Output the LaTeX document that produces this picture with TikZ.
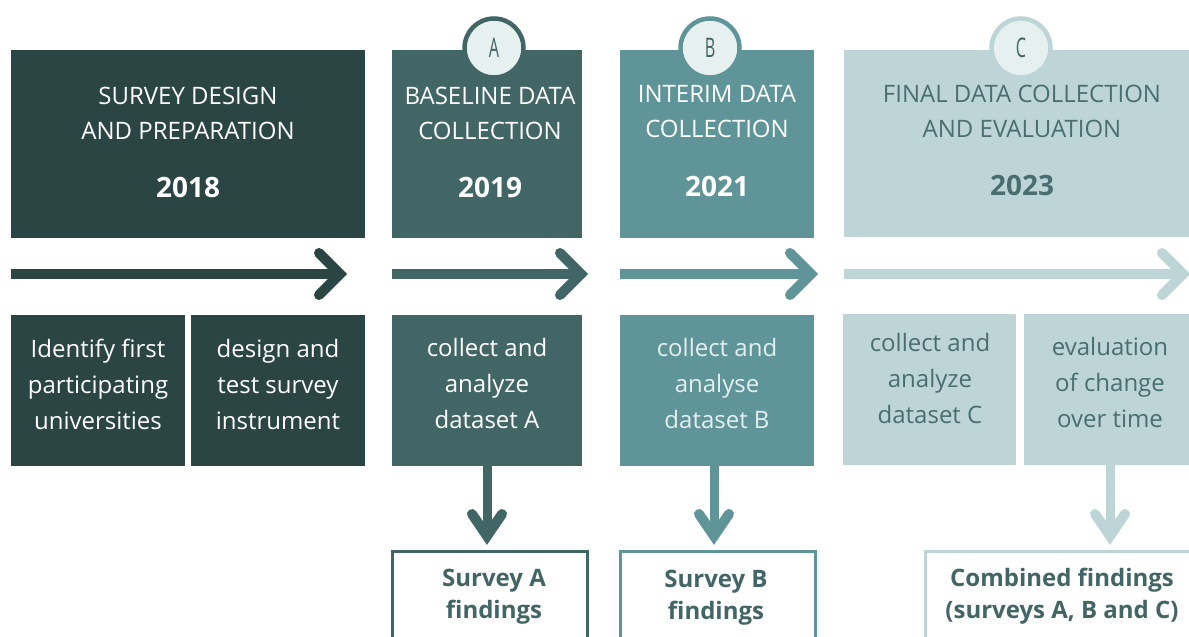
\documentclass[tikz,border=0pt]{standalone}
\usepackage{fontspec}
\setmainfont{Open Sans}
\usetikzlibrary{calc}
\definecolor{cA}{HTML}{2B4545}
\definecolor{cB}{HTML}{426566}
\definecolor{cC}{HTML}{5F9598}
\definecolor{cD}{HTML}{BDD5D7}
\definecolor{cL}{HTML}{E6F0EF}
\definecolor{cT}{HTML}{4A6E70}
\definecolor{cW}{HTML}{E4EFEF}
\tikzset{
  box/.style={draw=none, inner sep=0, outer sep=0, anchor=north west},
  head/.style={align=center, font=\fontsize{24}{35}\selectfont, inner sep=0},
  year/.style={font=\fontsize{28}{30}\selectfont\bfseries, inner sep=0},
  body/.style={align=center, font=\fontsize{24}{36}\selectfont, inner sep=0},
  find/.style={align=center, font=\fontsize{24}{32}\selectfont\bfseries, inner sep=0, text=cB},
  fbox/.style={draw, line width=3, fill=white, inner sep=0, outer sep=0, anchor=north west},
  shaft/.style={line width=10},
  vshaft/.style={line width=9},
  chev/.style={line width=10, line cap=round, line join=miter},
  badge/.style={circle, fill=cL, line width=4.5, minimum size=59, inner sep=0, text=cB, font=\fontsize{27}{27}\selectfont},
}
\begin{document}
\begin{tikzpicture}[x=1pt,y=-1pt]
\useasboundingbox (0,0) rectangle (1189,637);
% top boxes
\node[box, fill=cA, minimum width=354, minimum height=188] (t1) at (11,50) {};
\node[box, fill=cB, minimum width=190, minimum height=188] (t2) at (392,50) {};
\node[box, fill=cC, minimum width=194, minimum height=188] (t3) at (620,50) {};
\node[box, fill=cD, minimum width=346, minimum height=187] (t4) at (844,50) {};
% badges
\node[badge, draw=cB] (bA) at (494,48) {\scalebox{0.6}[1]{A}};
\node[badge, draw=cC] (bB) at (710,48) {\scalebox{0.6}[1]{B}};
\node[badge, draw=cD] (bC) at (1021,48) {\scalebox{0.6}[1]{C}};
% heading texts
\node[head, text=white] (h1) at (188,113) {SURVEY DESIGN\\AND PREPARATION};
\node[year, text=white] (y1) at (188,187) {2018};
\node[head, text=white] (h2) at (490,113) {BASELINE DATA\\COLLECTION};
\node[year, text=white] (y2) at (490,187) {2019};
\node[head, text=white] (h3) at (717,112) {INTERIM DATA\\COLLECTION};
\node[year, text=white] (y3) at (717,186) {2021};
\node[head, text=cT] (h4) at (1022,111) {FINAL DATA COLLECTION\\AND EVALUATION};
\node[year, text=cT] (y4) at (1022,185) {2023};
% horizontal arrows
\coordinate (a1s) at (11,274); \coordinate (a1e) at (340,274);
\coordinate (a2s) at (392,274); \coordinate (a2e) at (581,274);
\coordinate (a3s) at (620,274); \coordinate (a3e) at (811,274);
\coordinate (a4s) at (844,274); \coordinate (a4e) at (1183,274);
\foreach \s/\e/\c in {a1s/a1e/cA, a2s/a2e/cB, a3s/a3e/cC, a4s/a4e/cD}{
  \draw[shaft, draw=\c] (\s) -- ($(\e)+(-4,0)$);
  \draw[chev, draw=\c] ($(\e)+(-21,-21)$) -- (\e) -- ($(\e)+(-21,21)$);
}
% lower boxes
\node[box, fill=cA, minimum width=174, minimum height=151] (l1) at (11,315) {};
\node[box, fill=cA, minimum width=174, minimum height=151] (l2) at (191,315) {};
\node[box, fill=cB, minimum width=190, minimum height=151] (l3) at (392,315) {};
\node[box, fill=cC, minimum width=194, minimum height=151] (l4) at (620,315) {};
\node[box, fill=cD, minimum width=173, minimum height=151] (l5) at (843,314) {};
\node[box, fill=cD, minimum width=166, minimum height=151] (l6) at (1024,314) {};
\node[body, text=white] at (98,384) {Identify first\\participating\\universities};
\node[body, text=white] at (278,384) {design and\\test survey\\instrument};
\node[body, text=white] at (487,383) {collect and\\analyze\\dataset A};
\node[body, text=cW] at (717,383) {collect and\\analyse\\dataset B};
\node[body, text=cT] at (930,378) {collect and\\analyze\\dataset C};
\node[body, text=cT] at (1110,382) {evaluation\\of change\\over time};
% findings boxes
\node[fbox, draw=cB, minimum width=195, minimum height=100] (fA) at (392,551) {};
\node[fbox, draw=cC, minimum width=195, minimum height=100] (fB) at (620,551) {};
\node[fbox, draw=cD, minimum width=270, minimum height=100] (fC) at (925,551) {};
\node[find] at (494,597) {Survey A\\findings};
\node[find] at (716,598) {Survey B\\findings};
\node[find] at (1062,596) {Combined findings\\(surveys A, B and C)};
% vertical arrows
\coordinate (vA) at (487,536); \coordinate (vB) at (714,536); \coordinate (vC) at (1110,536);
\foreach \x/\t/\c in {l3/vA/cB, l4/vB/cC, l6/vC/cD}{
  \draw[vshaft, draw=\c] (\x.south -| \t) -- ($(\t)+(0,-4)$);
  \draw[chev, draw=\c] ($(\t)+(-15,-22)$) -- (\t) -- ($(\t)+(15,-22)$);
}
\end{tikzpicture}
\end{document}
